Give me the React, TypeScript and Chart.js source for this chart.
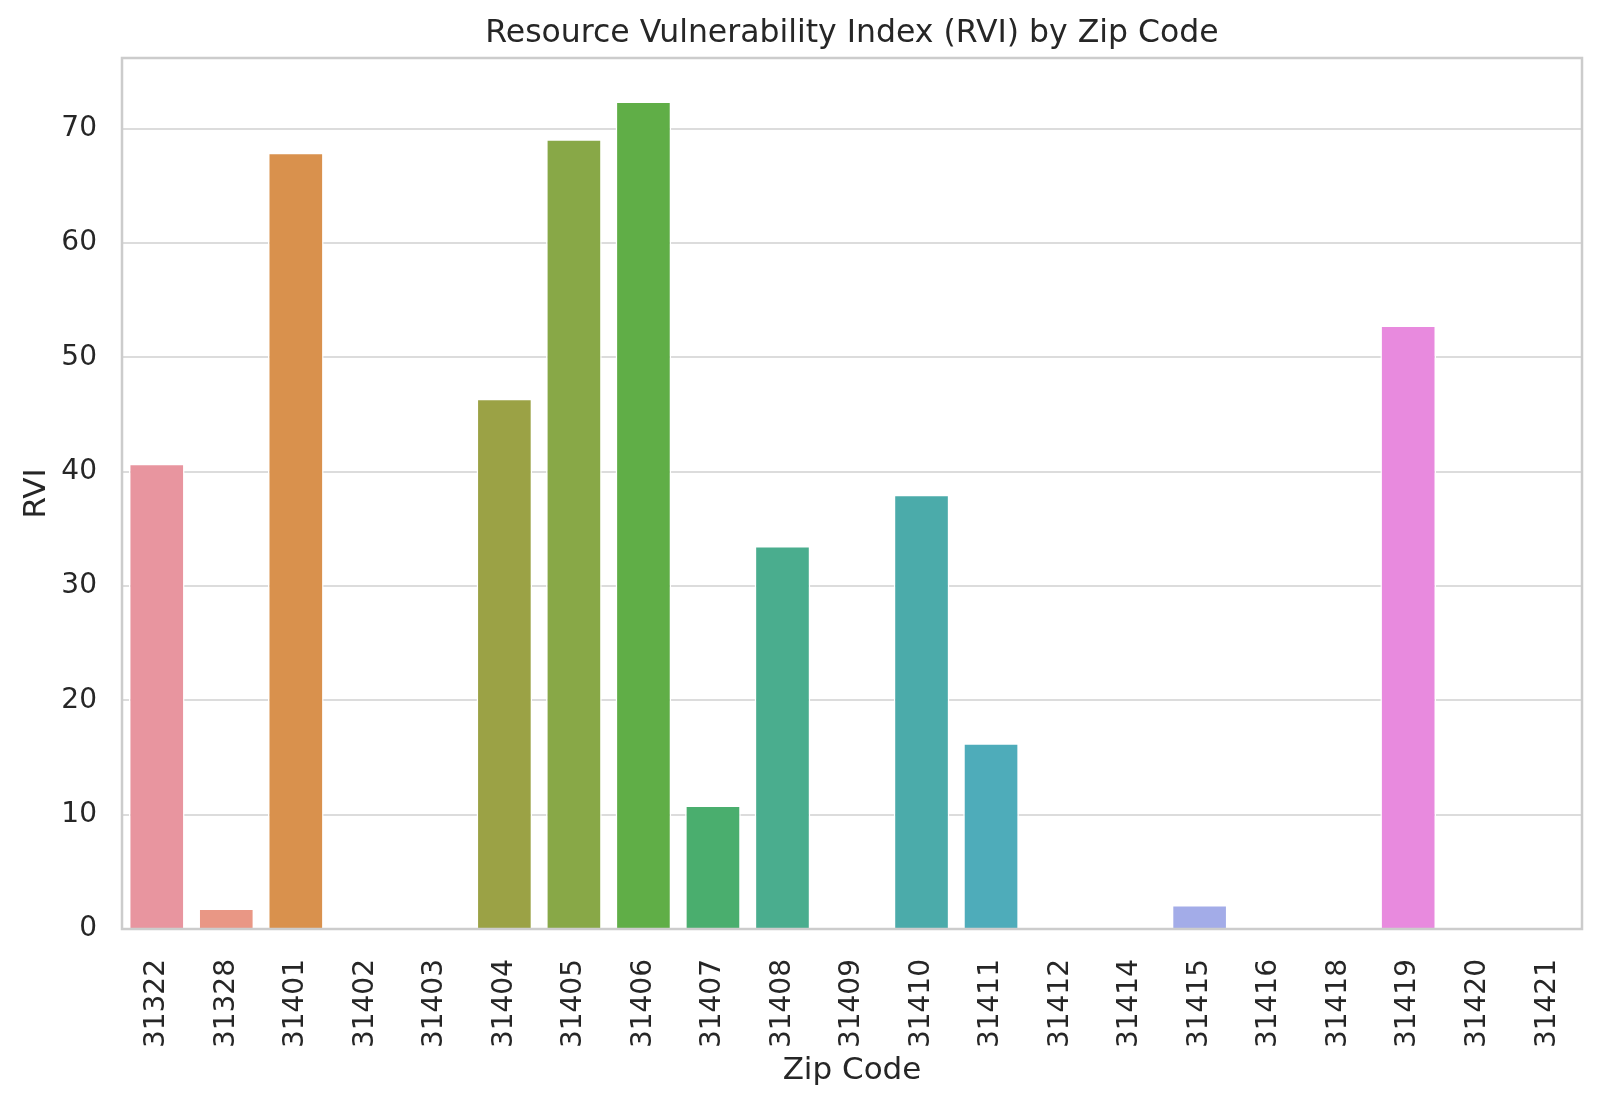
import { useEffect, useRef } from 'react';
import { Chart, registerables } from 'chart.js';

Chart.register(...registerables);

const zipCodes = [
  '31322', '31328', '31401', '31402', '31403', '31404', '31405', '31406', '31407', '31408', '31409',
  '31410', '31411', '31412', '31414', '31415', '31416', '31418', '31419', '31420', '31421',
];

const rviValues = [
  40.7, 1.8, 67.9, 0, 0, 46.4, 69.1, 72.4, 10.8, 33.5, 0,
  38.0, 16.25, 0, 0, 2.1, 0, 0, 52.8, 0, 0,
];

const barColors = [
  '#e8959f', '#e99785', '#d9914d', '#c79a45', '#b49e45', '#9ba245', '#88a847', '#60ae47', '#4aae6e', '#4aad8e', '#4aac9d',
  '#4babaa', '#4eacba', '#52aacd', '#76a6e0', '#a3ace8', '#b39be7', '#d08ee6', '#e88ade', '#e88cc6', '#e890b1',
];

const yTickStep = 10;
const chartTitle = 'Resource Vulnerability Index (RVI) by Zip Code';

const FONT = "'DejaVu Sans', sans-serif";
const TEXT = '#262626';

// grey box round the plot area + title centred over the axes (matplotlib style)
const frameAndTitle = {
  id: 'frameAndTitle',
  afterDatasetsDraw(chart: Chart) {
    const { ctx, chartArea } = chart;
    ctx.save();
    ctx.strokeStyle = '#cccccc';
    ctx.lineWidth = 2.5;
    ctx.strokeRect(chartArea.left, chartArea.top, chartArea.right - chartArea.left, chartArea.bottom - chartArea.top);

    ctx.fillStyle = TEXT;
    ctx.font = `31.5px ${FONT}`;
    ctx.textAlign = 'center';
    ctx.textBaseline = 'alphabetic';
    ctx.fillText(chartTitle, (chartArea.left + chartArea.right) / 2, chartArea.top - 16);
    ctx.restore();
  },
};

const App = () => {
  const canvasRef = useRef<HTMLCanvasElement | null>(null);
  const chartRef = useRef<Chart | null>(null);

  useEffect(() => {
    if (!canvasRef.current) return;
    const ctx = canvasRef.current.getContext('2d');
    if (!ctx) return;

    if (chartRef.current) chartRef.current.destroy();

    chartRef.current = new Chart(ctx, {
      type: 'bar',
      data: {
        labels: zipCodes,
        datasets: [{
          label: 'RVI',
          data: rviValues,
          backgroundColor: barColors,
          borderColor: '#ffffff',
          borderWidth: 1.5,
          barPercentage: 0.8,
          categoryPercentage: 1,
        }],
      },
      plugins: [frameAndTitle],
      options: {
        responsive: true,
        maintainAspectRatio: false,
        animation: false,
        layout: { padding: { left: 0, right: 18, top: 58, bottom: 0 } },
        plugins: {
          legend: { display: false },
          tooltip: { enabled: false },
          title: { display: false },
        },
        scales: {
          x: {
            offset: true,
            grid: { display: false, drawTicks: false },
            border: { display: false },
            ticks: {
              color: TEXT,
              font: { family: FONT, size: 28 },
              minRotation: 90,
              maxRotation: 90,
              padding: 30,
              autoSkip: false,
            },
            title: {
              display: true,
              text: 'Zip Code',
              color: TEXT,
              font: { family: FONT, size: 31 },
              padding: { top: 0, bottom: 16.5 },
            },
            afterFit(scale: any) {
              scale.height = 177;
              // rotated end labels should not squeeze the plot sideways
              scale.paddingLeft = 0;
              scale.paddingRight = 0;
            },
          },
          y: {
            min: 0,
            max: 76.2,
            grid: { color: '#dcdcdc', lineWidth: 2, drawTicks: false },
            border: { display: false },
            ticks: {
              stepSize: yTickStep,
              includeBounds: false,
              color: TEXT,
              font: { family: FONT, size: 28 },
              padding: 25,
            },
            title: {
              display: true,
              text: 'RVI',
              color: TEXT,
              font: { family: FONT, size: 31 },
              padding: { top: 18, bottom: 0 },
            },
            afterFit(scale: any) {
              scale.width = 122;
            },
          },
        },
      },
    });

    return () => {
      if (chartRef.current) {
        chartRef.current.destroy();
        chartRef.current = null;
      }
    };
  }, []);

  return (
    <div style={{ position: 'fixed', left: 0, top: 0, width: '100vw', height: '100vh', background: '#ffffff' }}>
      <canvas ref={canvasRef}></canvas>
    </div>
  );
};

export default App;
